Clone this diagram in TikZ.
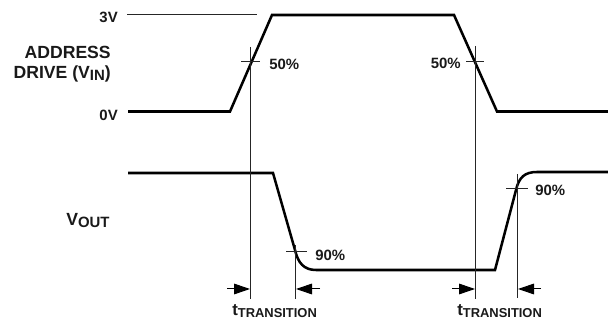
\documentclass[tikz,border=0pt]{standalone}
\usepackage{fontspec}
\setmainfont{Liberation Sans}
\usetikzlibrary{arrows.meta}
\tikzset{
  x=0.75pt,y=-0.75pt,
  signal/.style={line width=1.9pt,line join=miter},
  thin line/.style={line width=0.75pt,black!85},
  dim/.style={line width=0.75pt,black,-{Triangle[length=12pt,width=8pt]}},
  lab/.style={inner sep=0pt,font=\bfseries\fontsize{11.2}{13}\selectfont,text=black!90},
  big/.style={inner sep=0pt,font=\bfseries\fontsize{13.2}{15}\selectfont,text=black!90},
  tlab/.style={inner sep=0pt,font=\bfseries\fontsize{12.6}{15}\selectfont,text=black!90}
}
\newcommand{\smallsub}[1]{\raisebox{-1.3pt}{\fontsize{11.2}{13}\selectfont #1}}
\newcommand{\tsub}[1]{\raisebox{-1pt}{\fontsize{9.7}{12}\selectfont #1}}
\begin{document}
\begin{tikzpicture}
\useasboundingbox (0,0) rectangle (608,324);
% signals
\draw[signal] (128,111.5) -- (230,111.5) -- (272,15) -- (454,15) -- (497,111.5) -- (608,111.5);
\draw[signal] (128,173) -- (273,173) -- (295,250) .. controls (298,263) and (304,270) .. (316,270) -- (495,270) -- (516,190) .. controls (519,177) and (525,172) .. (537,172) -- (608,172);
% reference lines
\draw[thin line] (127,14.5) -- (257,14.5);
\draw[thin line] (250,47) -- (250,299);
\draw[thin line] (241,62) -- (260,62);
\draw[thin line] (475,46) -- (475,299);
\draw[thin line] (466,62) -- (484,62);
\draw[thin line] (295,245) -- (295,299);
\draw[thin line] (286,252) -- (307,252);
\draw[thin line] (517,174) -- (517,298);
\draw[thin line] (506,189) -- (528,189);
% dimension arrows
\coordinate (a1) at (227,289); \coordinate (a2) at (250,289);
\coordinate (a3) at (320,289); \coordinate (a4) at (296,289);
\coordinate (a5) at (452,289); \coordinate (a6) at (475,289);
\coordinate (a7) at (541,289); \coordinate (a8) at (518,289);
\draw[dim] (a1) -- (a2);
\draw[dim] (a3) -- (a4);
\draw[dim] (a5) -- (a6);
\draw[dim] (a7) -- (a8);
% labels
\node[lab,anchor=base east] (v3) at (118,23) {3V};
\node[lab,anchor=base east] (v0) at (118,121) {0V};
\node[big,anchor=base east] (addr) at (111,58.5) {ADDRESS};
\node[big,anchor=base east] (drive) at (111,79) {DRIVE (V\smallsub{IN})};
\node[big,anchor=base west] (vout) at (66,226) {V\smallsub{OUT}};
\node[lab,anchor=base west] (p1) at (269,70) {50\%};
\node[lab,anchor=base east] (p2) at (461,69) {50\%};
\node[lab,anchor=base west] (p3) at (315,261) {90\%};
\node[lab,anchor=base west] (p4) at (535,196) {90\%};
\node[tlab,anchor=base west] (t1) at (232,316) {t\tsub{TRANSITION}};
\node[tlab,anchor=base west] (t2) at (457,316) {t\tsub{TRANSITION}};
\end{tikzpicture}
\end{document}
